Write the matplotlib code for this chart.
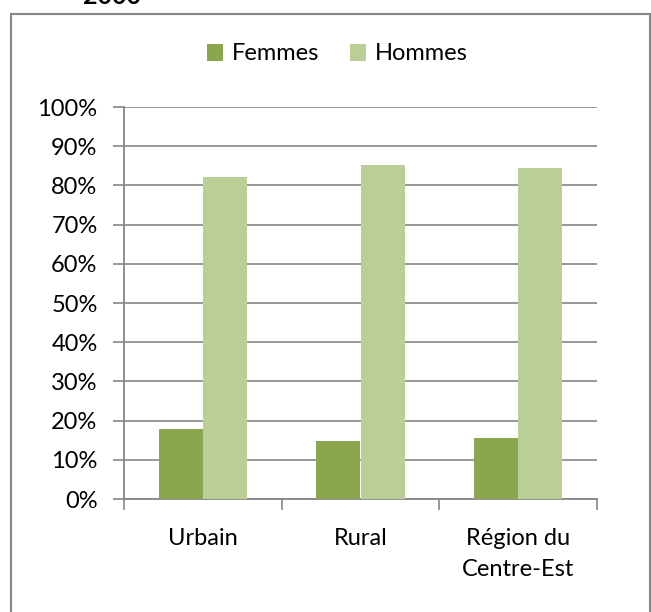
import matplotlib.pyplot as plt
import matplotlib.patches as mpatches
import numpy as np

plt.rcParams['font.family'] = ['Lato', 'DejaVu Sans']

categories = ['Urbain', 'Rural', 'Région du\nCentre-Est']
femmes = [17.9, 14.8, 15.6]
hommes = [82.1, 85.2, 84.4]
yticks = np.arange(0, 101, 10)
ytick_labels = ['%d%%' % v for v in yticks]

W, H = 651, 612
fig = plt.figure(figsize=(W / 100, H / 100), dpi=100)
ax = fig.add_axes([124 / W, (H - 499) / H, (597 - 124) / W, (499 - 107) / H])

grey = '#868686'
fs = 17
x = np.arange(len(categories))
bw = 0.28
ax.bar(x - bw / 2, femmes, bw, color='#8aa64f', label='Femmes', zorder=3)
ax.bar(x + bw / 2, hommes, bw, color='#b9cf96', label='Hommes', zorder=3)

ax.set_xlim(-0.5, len(categories) - 0.5)
ax.set_ylim(0, 100)
ax.set_yticks(yticks)
ax.set_yticklabels(ytick_labels)
ax.set_xticks(x)
ax.set_xticklabels(categories, linespacing=1.55)
ax.set_xticks(np.arange(-0.5, len(categories)), minor=True)

ax.yaxis.grid(True, color=grey, lw=1.2, zorder=0)
ax.tick_params(axis='y', length=8, width=1.2, color=grey, pad=11, labelsize=fs)
ax.tick_params(axis='x', which='major', length=0, pad=21, labelsize=fs)
ax.tick_params(axis='x', which='minor', length=8, width=1.2, color=grey)
for s in ['top', 'right']:
    ax.spines[s].set_visible(False)
for s in ['left', 'bottom']:
    ax.spines[s].set_color(grey)
    ax.spines[s].set_linewidth(1.3)

fig.legend(loc='center', bbox_to_anchor=(337 / W, 1 - 54 / H), ncol=2, frameon=False,
           fontsize=fs, handlelength=0.7, handleheight=0.7, handletextpad=0.35,
           columnspacing=1.3)

# outer chart border
fig.patches.append(mpatches.Rectangle((10.5 / W, -0.1), (650 - 10.5) / W, 1.1 - 14 / H,
                                      transform=fig.transFigure, fill=False,
                                      edgecolor=grey, lw=1.5))

fig.text(83 / W, 1 - 4 / H, '2000', fontsize=18, fontweight='bold', va='baseline')

fig.savefig('out.png', dpi=100)
